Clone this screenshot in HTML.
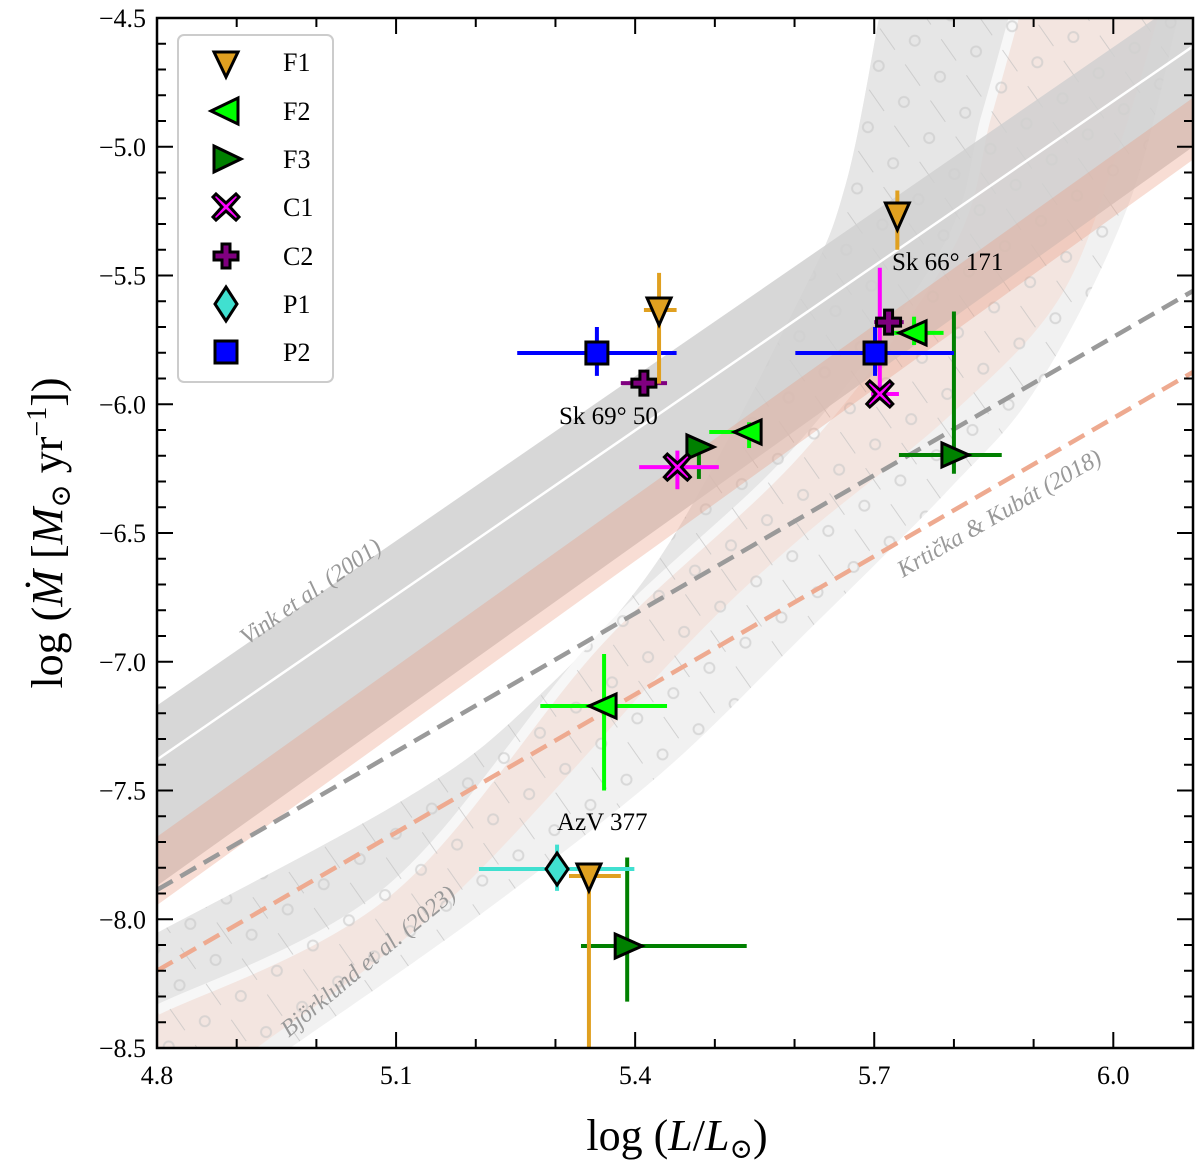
<!DOCTYPE html>
<html><head><meta charset="utf-8"><style>
html,body{margin:0;padding:0;background:#fff;}
svg{display:block;font-family:"Liberation Serif","DejaVu Serif",serif;}
</style></head><body>
<svg id="chart" width="1200" height="1167" viewBox="0 0 1200 1167">
<defs>
<clipPath id="plotclip"><rect x="157" y="18" width="1036" height="1030"/></clipPath>
<pattern id="hatch" patternUnits="userSpaceOnUse" width="44" height="44" patternTransform="rotate(-35)">
<line x1="0" y1="0" x2="0" y2="26" stroke="#bdbdbd" stroke-width="2" opacity="0.6"/>
<circle cx="22" cy="30" r="5" fill="none" stroke="#c8c8c8" stroke-width="2" opacity="0.6"/>
</pattern>
</defs>
<g id="bands" clip-path="url(#plotclip)"></g>
<g id="marks" clip-path="url(#plotclip)"></g>
<g id="axes"></g>
</svg>
<script>
// ---- data ----
const xTicks = [4.8, 5.1, 5.4, 5.7, 6.0];
const xTickLabels = ["4.8", "5.1", "5.4", "5.7", "6.0"];
const yTicks = [-4.5, -5.0, -5.5, -6.0, -6.5, -7.0, -7.5, -8.0, -8.5];
const yTickLabels = ["\u22124.5", "\u22125.0", "\u22125.5", "\u22126.0", "\u22126.5", "\u22127.0", "\u22127.5", "\u22128.0", "\u22128.5"];
// Vink et al. (2001) band
const vinkX = [4.8, 6.1];
const vinkUpper = [-7.17, -4.40];
const vinkCenter = [-7.38, -4.61];
const vinkLower = [-7.87, -5.00];
// salmon band
const salX = [4.8, 6.1];
const salUpper = [-7.68, -4.81];
const salLower = [-7.945, -5.05];
// dashed lines
const dashGrayX = [4.8, 6.1];
const dashGrayY = [-7.886, -5.56];
const dashSalX = [4.8, 6.1];
const dashSalY = [-8.2, -5.875];
// Björklund curved band edges
const e1x = [4.80, 5.109, 5.260, 5.430, 5.605, 5.664, 5.706];
const e1y = [-8.053, -7.537, -7.188, -6.60, -5.599, -5.149, -4.5];
const e2x = [4.80, 5.092, 5.355, 5.605, 5.790, 5.840, 5.875];
const e2y = [-8.353, -7.886, -6.916, -6.178, -5.405, -4.888, -4.5];
const e3x = [4.967, 5.205, 5.430, 5.605, 5.793, 5.906, 6.019, 6.081];
const e3y = [-8.5, -7.983, -7.440, -6.916, -6.333, -5.925, -5.226, -4.5];
const e4x = [4.925, 5.167, 5.459, 5.605, 5.793, 5.931, 6.006, 6.056];
const e4y = [-8.5, -7.925, -6.954, -6.527, -6.049, -5.595, -5.013, -4.5];
// points
const f1X = [5.430, 5.729, 5.342];
const f1Y = [-5.634, -5.265, -7.832];
const f1Xlo = [5.411, 5.729, 5.317];
const f1Xhi = [5.452, 5.729, 5.382];
const f1Ylo = [-5.92, -5.40, -8.5];
const f1Yhi = [-5.49, -5.17, -7.832];
const f2X = [5.361, 5.543, 5.750];
const f2Y = [-7.172, -6.108, -5.723];
const f2Xlo = [5.281, 5.493, 5.725];
const f2Xhi = [5.440, 5.556, 5.787];
const f2Ylo = [-7.50, -6.17, -5.77];
const f2Yhi = [-6.97, -6.07, -5.66];
const f3X = [5.480, 5.800, 5.390];
const f3Y = [-6.166, -6.197, -8.104];
const f3Xlo = [5.465, 5.731, 5.332];
const f3Xhi = [5.495, 5.860, 5.540];
const f3Ylo = [-6.29, -6.27, -8.32];
const f3Yhi = [-6.14, -5.64, -7.76];
const c1X = [5.453, 5.707];
const c1Y = [-6.244, -5.960];
const c1Xlo = [5.405, 5.696];
const c1Xhi = [5.505, 5.731];
const c1Ylo = [-6.33, -5.98];
const c1Yhi = [-6.18, -5.47];
const c2X = [5.411, 5.718];
const c2Y = [-5.918, -5.681];
const c2Xlo = [5.382, 5.700];
const c2Xhi = [5.440, 5.737];
const c2Ylo = [-5.95, -5.70];
const c2Yhi = [-5.89, -5.66];
const p1X = [5.302];
const p1Y = [-7.805];
const p1Xlo = [5.204];
const p1Xhi = [5.399];
const p1Ylo = [-7.89];
const p1Yhi = [-7.71];
const p2X = [5.352, 5.701];
const p2Y = [-5.801, -5.801];
const p2Xlo = [5.252, 5.601];
const p2Xhi = [5.452, 5.800];
const p2Ylo = [-5.89, -5.89];
const p2Yhi = [-5.70, -5.70];

// ---- scales ----
const X0 = 157, X1 = 1193, Y0 = 18, Y1 = 1048;
function sx(v){ return X0 + (v - 4.8) / 1.3 * (X1 - X0); }
function sy(v){ return Y0 + (-4.5 - v) / 4.0 * (Y1 - Y0); }
const NS = "http://www.w3.org/2000/svg";
function mk(tag, attrs, parent){ const e = document.createElementNS(NS, tag); for (const k in attrs) e.setAttribute(k, attrs[k]); parent.appendChild(e); return e; }
function pts(xs, ys){ return xs.map((x,i)=>sx(x).toFixed(1)+","+sy(ys[i]).toFixed(1)); }
function P(xs, ys){ return xs.map((x,i)=>[sx(x), sy(ys[i])]); }
// Catmull-Rom smooth path segment through points (no initial M if cont)
function smooth(p, start){
  let d = start ? `M${p[0][0].toFixed(1)},${p[0][1].toFixed(1)}` : `L${p[0][0].toFixed(1)},${p[0][1].toFixed(1)}`;
  for (let i=0;i<p.length-1;i++){
    const p0 = p[i-1]||p[i], p1=p[i], p2=p[i+1], p3=p[i+2]||p[i+1];
    const c1 = [p1[0]+(p2[0]-p0[0])/6, p1[1]+(p2[1]-p0[1])/6];
    const c2 = [p2[0]-(p3[0]-p1[0])/6, p2[1]-(p3[1]-p1[1])/6];
    d += ` C${c1[0].toFixed(1)},${c1[1].toFixed(1)} ${c2[0].toFixed(1)},${c2[1].toFixed(1)} ${p2[0].toFixed(1)},${p2[1].toFixed(1)}`;
  }
  return d;
}
function bandPath(ax, ay, bx, by, extra){
  let d = smooth(P(ax,ay), true) + " " + smooth(P(bx,by).reverse(), false);
  if (extra) d += ` L${extra[0]},${extra[1]}`;
  return d + " Z";
}

const bands = document.getElementById("bands");
const BL = [sx(4.8), sy(-8.5)];
let p = mk("path", {d: bandPath(e1x,e1y,e3x,e3y,BL), fill:"#f1f1f1"}, bands);


p = mk("path", {d: bandPath(e1x,e1y,e2x,e2y), fill:"#e6e6e6"}, bands);


p = mk("path", {d: bandPath(e2x,e2y,e4x,e4y,BL), fill:"#f3e5e0"}, bands);


p = mk("path", {d: smooth(P(e2x,e2y), true), fill:"none", stroke:"#f7f7f7", "stroke-width":10}, bands);


p = mk("path", {d: bandPath(e1x,e1y,e3x,e3y,BL), fill:"url(#hatch)"}, bands);


// Vink band
p = mk("polygon", {points: pts(vinkX,vinkUpper).concat(pts(vinkX,vinkLower).reverse()).join(" "), fill:"#d0d0d0", "fill-opacity":"0.85"}, bands);


p = mk("polygon", {points: pts(salX,salUpper).concat(pts(salX,salLower).reverse()).join(" "), fill:"#e9967a", "fill-opacity":"0.32"}, bands);


p = mk("polyline", {points: pts(vinkX,vinkCenter).join(" "), fill:"none", stroke:"#fff", "stroke-width":2.5}, bands);


p = mk("polyline", {points: pts(dashGrayX,dashGrayY).join(" "), fill:"none", stroke:"#9a9a9a", "stroke-width":4.5, "stroke-dasharray":"18,9"}, bands);


p = mk("polyline", {points: pts(dashSalX,dashSalY).join(" "), fill:"none", stroke:"#eeaa90", "stroke-width":4.5, "stroke-dasharray":"18,9"}, bands);



function rlabel(txt, cx, cy, ang, name){
  const t = mk("text", {x:cx, y:cy, "text-anchor":"middle", "font-size":24, "font-style":"italic", fill:"#999", transform:`rotate(${ang} ${cx} ${cy})`}, bands);
  t.textContent = txt;
  
  
}
rlabel("Vink et al. (2001)", 315, 598, -35, "vink-label");
rlabel("Krtička & Kubát (2018)", 1003, 520, -30, "krticka-label");
rlabel("Björklund et al. (2023)", 373, 967, -40, "bjorklund-label");

const marks = document.getElementById("marks");
function marker(shape, cx, cy, fill, g){
  const s = 12;
  let e;
  if (shape==="down") e = mk("polygon",{points:`${cx-s},${cy-s} ${cx+s},${cy-s} ${cx},${cy+s+3}`},g);
  else if (shape==="left") e = mk("polygon",{points:`${cx-s-3},${cy} ${cx+s},${cy-s} ${cx+s},${cy+s}`},g);
  else if (shape==="right") e = mk("polygon",{points:`${cx+s+3},${cy} ${cx-s},${cy-s} ${cx-s},${cy+s}`},g);
  else if (shape==="diamond") e = mk("polygon",{points:`${cx},${cy-16} ${cx+11},${cy} ${cx},${cy+16} ${cx-11},${cy}`},g);
  else if (shape==="square") e = mk("rect",{x:cx-11,y:cy-11,width:22,height:22},g);
  else if (shape==="x") e = mk("path",{d:`M${cx-10},${cy-13} L${cx},${cy-4} L${cx+10},${cy-13} L${cx+13},${cy-10} L${cx+4},${cy} L${cx+13},${cy+10} L${cx+10},${cy+13} L${cx},${cy+4} L${cx-10},${cy+13} L${cx-13},${cy+10} L${cx-4},${cy} L${cx-13},${cy-10} Z`},g);
  else if (shape==="plus") e = mk("path",{d:`M${cx-4},${cy-12} H${cx+4} V${cy-4} H${cx+12} V${cy+4} H${cx+4} V${cy+12} H${cx-4} V${cy+4} H${cx-12} V${cy-4} H${cx-4} Z`},g);
  e.setAttribute("fill", fill); e.setAttribute("stroke","#000"); e.setAttribute("stroke-width","3"); e.setAttribute("stroke-linejoin","miter");
  return e;
}
function series(name, X, Y, Xlo, Xhi, Ylo, Yhi, color, shape){
  const g = mk("g", {}, marks);
  
  
  X.forEach((x,i)=>{
    const pg = mk("g", {}, g);
    
    
    mk("line",{x1:sx(Xlo[i]),x2:sx(Xhi[i]),y1:sy(Y[i]),y2:sy(Y[i]),stroke:color,"stroke-width":4},pg);
    mk("line",{x1:sx(x),x2:sx(x),y1:sy(Ylo[i]),y2:sy(Yhi[i]),stroke:color,"stroke-width":4},pg);
    marker(shape, sx(x), sy(Y[i]), color, pg);
  });
}
series("series-f3", f3X,f3Y,f3Xlo,f3Xhi,f3Ylo,f3Yhi,"#008000","right");
series("series-f2", f2X,f2Y,f2Xlo,f2Xhi,f2Ylo,f2Yhi,"#00ff00","left");
series("series-c1", c1X,c1Y,c1Xlo,c1Xhi,c1Ylo,c1Yhi,"#ff00ff","x");
series("series-p2", p2X,p2Y,p2Xlo,p2Xhi,p2Ylo,p2Yhi,"#0000ff","square");
series("series-c2", c2X,c2Y,c2Xlo,c2Xhi,c2Ylo,c2Yhi,"#800080","plus");
series("series-p1", p1X,p1Y,p1Xlo,p1Xhi,p1Ylo,p1Yhi,"#40e0d0","diamond");
series("series-f1", f1X,f1Y,f1Xlo,f1Xhi,f1Ylo,f1Yhi,"#e0a020","down");

function plabel(txt, x, y, name){
  const t = mk("text",{x:x,y:y,"font-size":25,fill:"#000"},marks);
  t.textContent = txt;
  
  
}
plabel("Sk 66\u00b0 171", 892, 270, "label-sk66-171");
plabel("Sk 69\u00b0 50", 559, 424, "label-sk69-50");
plabel("AzV 377", 557, 830, "label-azv377");

const axes = document.getElementById("axes");
let fr = mk("rect",{x:X0,y:Y0,width:X1-X0,height:Y1-Y0,fill:"none",stroke:"#000","stroke-width":2.5},axes);


for (let v=4.8; v<=6.1001; v+=0.1){
  const x = sx(v);
  const major = Math.abs(((v-4.8)/0.3) - Math.round((v-4.8)/0.3)) < 1e-6;
  const L = major ? 16 : 9;
  mk("line",{x1:x,x2:x,y1:Y1,y2:Y1-L,stroke:"#000","stroke-width":2},axes);
  mk("line",{x1:x,x2:x,y1:Y0,y2:Y0+L,stroke:"#000","stroke-width":2},axes);
}
for (let v=-4.5; v>=-8.5001; v-=0.1){
  const y = sy(v);
  const major = Math.abs(((v+4.5)/0.5) - Math.round((v+4.5)/0.5)) < 1e-6;
  const L = major ? 16 : 9;
  mk("line",{x1:X0,x2:X0+L,y1:y,y2:y,stroke:"#000","stroke-width":2},axes);
  mk("line",{x1:X1,x2:X1-L,y1:y,y2:y,stroke:"#000","stroke-width":2},axes);
}
xTicks.forEach((v,i)=>{
  const t = mk("text",{x:sx(v),y:1084,"text-anchor":"middle","font-size":26},axes);
  t.textContent = xTickLabels[i];
  
  
});
yTicks.forEach((v,i)=>{
  const t = mk("text",{x:146,y:sy(v)+9,"text-anchor":"end","font-size":26},axes);
  t.textContent = yTickLabels[i];
  
  
});
</script>
<svg width="1200" height="1167" style="position:absolute;left:0;top:0" font-family="Liberation Serif, DejaVu Serif, serif">
<text x="677" y="1150" text-anchor="middle" font-size="44">log (<tspan font-style="italic">L</tspan>/<tspan font-style="italic">L</tspan><tspan font-size="28" dy="8">⊙</tspan><tspan dy="-8">)</tspan></text>
<text transform="translate(62 533) rotate(-90)" text-anchor="middle" font-size="44">log (<tspan font-style="italic">Ṁ</tspan> [<tspan font-style="italic">M</tspan><tspan font-size="28" dy="8">⊙</tspan><tspan dy="-8"> yr</tspan><tspan font-size="28" dy="-16">−1</tspan><tspan dy="16">])</tspan></text>
<g>
<rect x="178" y="35" width="155" height="347" rx="6" fill="#fff" fill-opacity="0.85" stroke="#cccccc" stroke-width="2"/>
<g><polygon points="214,52 238,52 226,77" fill="#e0a020" stroke="#000" stroke-width="3"/><text x="283" y="71" font-size="26">F1</text></g>
<g><polygon points="211,111 238,98 238,124" fill="#00ff00" stroke="#000" stroke-width="3"/><text x="283" y="120" font-size="26">F2</text></g>
<g><polygon points="241,159 214,146 214,172" fill="#008000" stroke="#000" stroke-width="3"/><text x="283" y="168" font-size="26">F3</text></g>
<g><path d="M216,194 L226,203 L236,194 L239,197 L230,207 L239,217 L236,220 L226,211 L216,220 L213,217 L222,207 L213,197 Z" fill="#ff00ff" stroke="#000" stroke-width="3"/><text x="283" y="216" font-size="26">C1</text></g>
<g><path d="M222,244 H230 V252 H238 V260 H230 V268 H222 V260 H214 V252 H222 Z" fill="#800080" stroke="#000" stroke-width="3"/><text x="283" y="265" font-size="26">C2</text></g>
<g><polygon points="226,287 237,304 226,321 215,304" fill="#40e0d0" stroke="#000" stroke-width="3"/><text x="283" y="313" font-size="26">P1</text></g>
<g><rect x="215" y="341" width="22" height="22" fill="#0000ff" stroke="#000" stroke-width="3"/><text x="283" y="361" font-size="26">P2</text></g>
</g>
</svg>
</body></html>
